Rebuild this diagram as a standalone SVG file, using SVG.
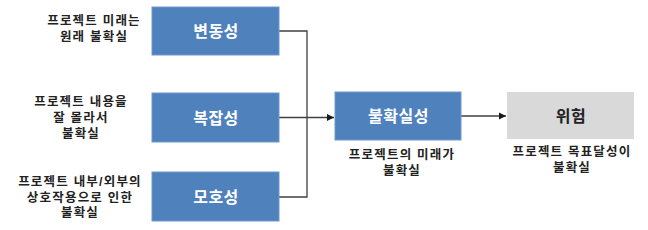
<svg xmlns="http://www.w3.org/2000/svg" width="648" height="230" viewBox="0 0 648 230">
<style>
.box{fill:#4f81bd;stroke:#6f98cc;stroke-width:1}
.gbox{fill:#d9d9d9;stroke:none}
.bt{font-family:"Noto Sans CJK KR","Noto Sans",sans-serif;font-size:16px;font-weight:bold;fill:#ffffff;text-anchor:middle;letter-spacing:0.5px}
.gt{font-family:"Noto Sans CJK KR","Noto Sans",sans-serif;font-size:16px;font-weight:bold;fill:#222222;text-anchor:middle;letter-spacing:0.5px}
.lt{font-family:"Liberation Sans","Noto Sans CJK KR",sans-serif;font-size:12.5px;font-weight:600;fill:#222222;text-anchor:middle;letter-spacing:1.2px}
.ln{fill:none;stroke:#404040;stroke-width:1.3}
</style>
<defs>
<marker id="ah" markerWidth="8" markerHeight="8" refX="7" refY="4" orient="auto" markerUnits="userSpaceOnUse">
<path d="M0,0.5 L7,4 L0,7.5 Z" fill="#1a1a1a"/>
</marker>
</defs>
<g id="connectors">
<polyline class="ln" points="279,31 307,31 307,197 279,197"/>
<line class="ln" x1="279" y1="117.5" x2="334" y2="117.5" marker-end="url(#ah)"/>
<line class="ln" x1="461" y1="116" x2="506" y2="116" marker-end="url(#ah)"/>
</g>
<g id="n-variability">
<rect class="box" x="152" y="7" width="127" height="48"/>
<text class="bt" x="216" y="37">변동성</text>
</g>
<g id="n-complexity">
<rect class="box" x="152" y="93" width="127" height="49"/>
<text class="bt" x="216" y="123.5">복잡성</text>
</g>
<g id="n-ambiguity">
<rect class="box" x="152" y="172" width="127" height="49"/>
<text class="bt" x="216" y="202.5">모호성</text>
</g>
<g id="n-uncertainty">
<rect class="box" x="335" y="92" width="126" height="48"/>
<text class="bt" x="398.5" y="122">불확실성</text>
</g>
<g id="n-risk">
<rect class="gbox" x="507" y="92" width="127" height="47"/>
<text class="gt" x="571" y="121.5">위험</text>
</g>
<g id="labels">
<text class="lt" x="94" y="25">프로젝트 미래는</text>
<text class="lt" x="94" y="41">원래 불확실</text>
<text class="lt" x="81" y="106">프로젝트 내용을</text>
<text class="lt" x="81" y="122">잘 몰라서</text>
<text class="lt" x="81" y="138">불확실</text>
<text class="lt" x="80" y="186">프로젝트 내부/외부의</text>
<text class="lt" x="80" y="201.5">상호작용으로 인한</text>
<text class="lt" x="80" y="217">불확실</text>
<text class="lt" x="402" y="159">프로젝트의 미래가</text>
<text class="lt" x="402" y="174.5">불확실</text>
<text class="lt" x="572" y="156">프로젝트 목표달성이</text>
<text class="lt" x="572" y="172">불확실</text>
</g>
</svg>
